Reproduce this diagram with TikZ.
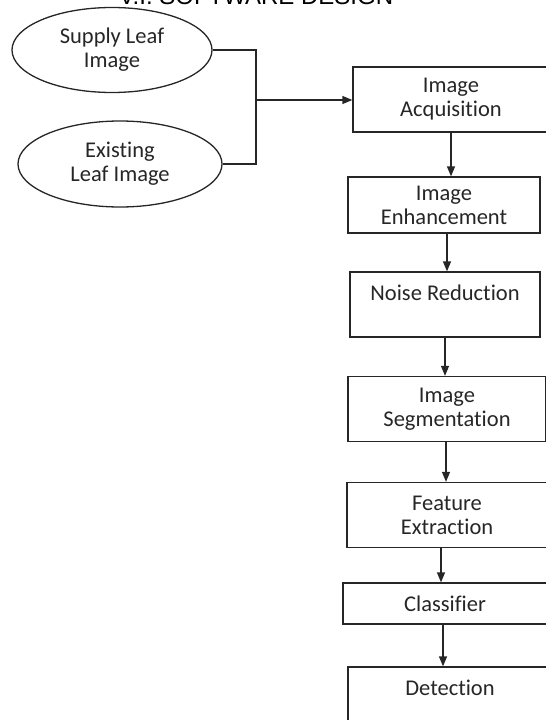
\documentclass[tikz,border=0pt]{standalone}
\usepackage{fontspec}
\setmainfont{Carlito}[RawFeature={-liga;-clig}]
\newfontfamily\titlefont{Liberation Sans}
\usetikzlibrary{shapes.geometric,arrows.meta}
\begin{document}
\begin{tikzpicture}[x=1pt,y=-1pt,
  ln/.style={line width=1.3pt,draw=black!85},
  arr/.style={ln,-{Triangle[length=10pt,width=8pt]}},
  boxnode/.style={ln,rectangle,inner sep=0pt,align=center,text=black!85,
    font=\fontsize{22.5}{24}\selectfont},
  ellnode/.style={ln,ellipse,inner sep=0pt,minimum width=200pt,minimum height=85pt,
    align=center,text=black!85,font=\fontsize{22.5}{24}\selectfont}]
\useasboundingbox (0,0) rectangle (546,720);
\clip (0,0) rectangle (546,720);
\node[anchor=base,font=\titlefont\fontsize{24}{26}\selectfont] (title) at (256,5) {V.I. SOFTWARE DESIGN};
\node[ellnode] (s1) at (112,50) {Supply Leaf\\Image};
\node[ellnode,minimum width=204pt,minimum height=86pt] (s2) at (120,164) {Existing\\Leaf Image};
\node[boxnode,minimum width=196pt,minimum height=65pt] (acq) at (451,99.5) {Image\\Acquisition};
\node[boxnode,minimum width=192pt,minimum height=56pt] (enh) at (444,205) {Image\\Enhancement};
\node[boxnode,minimum width=190pt,minimum height=65pt] (noi) at (445,304.5) {Noise Reduction\\\mbox{}};
\node[boxnode,minimum width=198pt,minimum height=65pt] (seg) at (447,409) {Image\\Segmentation};
\node[boxnode,minimum width=200pt,minimum height=65pt] (fea) at (447,515) {Feature\\Extraction};
\node[boxnode,minimum width=204pt,minimum height=41pt] (cls) at (445,603.5) {Classifier};
\node[boxnode,minimum width=204pt,minimum height=65pt] (det) at (450,699.5) {Detection\\\mbox{}};
\coordinate (j) at (256,100);
\draw[ln] (s1.east) -| (j) |- (s2.east);
\draw[arr] (j) -- (j -| acq.west);
\draw[arr] (acq.south) -- (acq.south |- enh.north);
\draw[arr] ([xshift=3pt]enh.south) -- ([xshift=3pt]enh.south |- noi.north);
\draw[arr] (noi.south) -- (noi.south |- seg.north);
\draw[arr] ([xshift=-1pt]seg.south) -- ([xshift=-1pt]seg.south |- fea.north);
\draw[arr] ([xshift=-6pt]fea.south) -- ([xshift=-6pt]fea.south |- cls.north);
\draw[arr] ([xshift=-2pt]cls.south) -- ([xshift=-2pt]cls.south |- det.north);
\end{tikzpicture}
\end{document}
